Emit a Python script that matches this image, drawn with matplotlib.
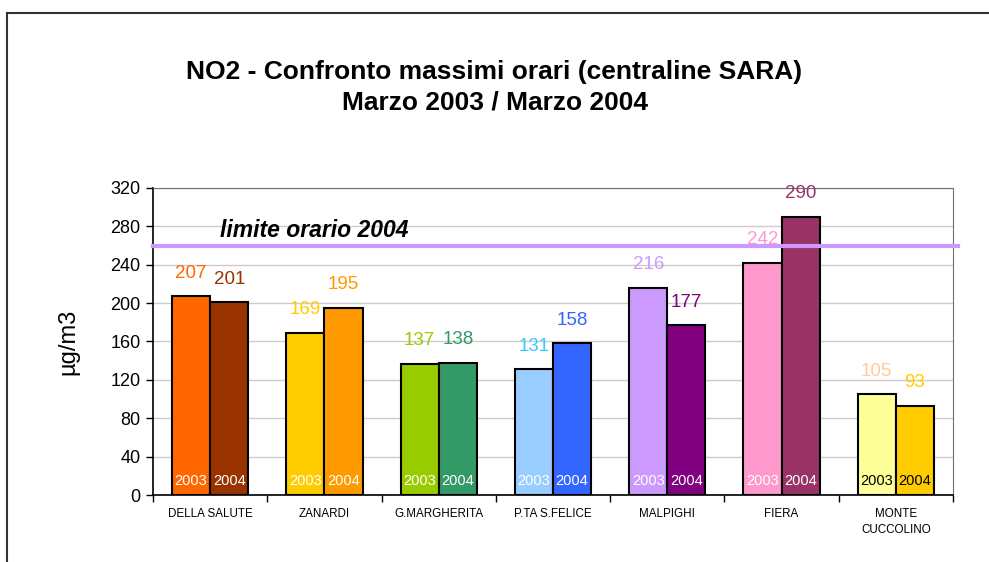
import matplotlib.pyplot as plt
from matplotlib.lines import Line2D
import numpy as np

plt.rcParams['font.family'] = ['Liberation Sans', 'DejaVu Sans']

# data
stations = ['DELLA SALUTE', 'ZANARDI', 'G.MARGHERITA', 'P.TA S.FELICE',
            'MALPIGHI', 'FIERA', 'MONTE\nCUCCOLINO']
max_2003 = [207, 169, 137, 131, 216, 242, 105]
max_2004 = [201, 195, 138, 158, 177, 290, 93]
limit_2004 = 260

colors_2003 = ['#FF6600', '#FFCC00', '#99CC00', '#99CCFF', '#CC99FF', '#FF99CC', '#FFFF99']
colors_2004 = ['#993300', '#FF9900', '#339966', '#3366FF', '#800080', '#993366', '#FFCC00']
label_col_2003 = ['#FF6600', '#FFCC00', '#99CC00', '#33CCFF', '#CC99FF', '#FF99CC', '#FFCC99']
label_col_2004 = ['#993300', '#FF9900', '#339966', '#3366FF', '#800080', '#993366', '#FFCC00']
inner_col = ['white'] * 6 + ['black']

fig = plt.figure(figsize=(9.89, 5.62), dpi=100)
ax = fig.add_axes([0.1547, 0.1192, 0.8089, 0.5463])

x = np.arange(len(stations))
w = 1 / 3
ax.bar(x - w / 2, max_2003, w, color=colors_2003, edgecolor='black', linewidth=1.5, zorder=3)
ax.bar(x + w / 2, max_2004, w, color=colors_2004, edgecolor='black', linewidth=1.5, zorder=3)

for i in range(len(stations)):
    ax.text(x[i] - w / 2, max_2003[i] + 24, str(max_2003[i]), ha='center', va='center',
            fontsize=13.5, color=label_col_2003[i], zorder=5)
    ax.text(x[i] + w / 2, max_2004[i] + 24, str(max_2004[i]), ha='center', va='center',
            fontsize=13.5, color=label_col_2004[i], zorder=5)
    ax.text(x[i] - w / 2, 15, '2003', ha='center', va='center', fontsize=10.5,
            color=inner_col[i], zorder=5)
    ax.text(x[i] + w / 2, 15, '2004', ha='center', va='center', fontsize=10.5,
            color=inner_col[i], zorder=5)

ax.axhline(limit_2004, xmin=0, xmax=1.006, color='#CC99FF', linewidth=3, clip_on=False, zorder=4)
ax.text(0.09, 276, 'limite orario 2004', fontsize=16.5, fontweight='bold', style='italic',
        ha='left', va='center', zorder=5)

ax.set_xlim(-0.5, len(stations) - 0.5)
ax.set_ylim(0, 320)
ax.set_yticks(np.arange(0, 321, 40))
ax.tick_params(axis='y', labelsize=13, direction='out', length=5, width=1, pad=4)
ax.set_xticks(x)
ax.set_xticklabels(stations, fontsize=8.4, linespacing=1.5)
ax.tick_params(axis='x', length=0, pad=9)
ax.set_xticks(np.arange(-0.5, len(stations), 1), minor=True)
ax.tick_params(axis='x', which='minor', length=5, width=1)
ax.yaxis.grid(True, color='#CCCCCC', linewidth=1, zorder=0)
ax.set_axisbelow(True)
for s in ['top', 'right']:
    ax.spines[s].set_color('#707070')
ax.spines['left'].set_linewidth(1.2)
ax.spines['bottom'].set_linewidth(1.2)
ax.set_ylabel('µg/m3', fontsize=17, labelpad=22)

fig.text(0.5, 0.871, 'NO2 - Confronto massimi orari (centraline SARA)', ha='center', va='center',
         fontsize=19, fontweight='bold')
fig.text(0.5, 0.818, 'Marzo 2003 / Marzo 2004', ha='center', va='center',
         fontsize=19, fontweight='bold')

# outer frame (top and left edges visible)
fig.add_artist(Line2D([7 / 989, 1], [1 - 13 / 562, 1 - 13 / 562], color='#333333', linewidth=1.5))
fig.add_artist(Line2D([7 / 989, 7 / 989], [0, 1 - 13 / 562], color='#333333', linewidth=1.5))

fig.savefig('out.png', dpi=100)
